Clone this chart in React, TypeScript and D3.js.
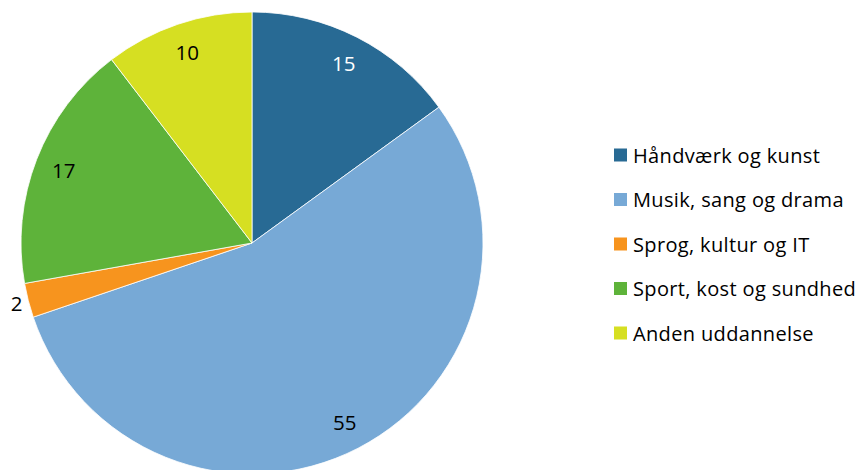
import React from "react";
import * as d3 from "d3";

const categories = ["Håndværk og kunst", "Musik, sang og drama", "Sprog, kultur og IT", "Sport, kost og sundhed", "Anden uddannelse"];
const values = [15.0, 54.8, 2.4, 17.4, 10.4];
const colors = ["#286A94", "#77A9D6", "#F7941E", "#5EB33A", "#D6DF22"];
const labelColors = ["#ffffff", "#000000", "#000000", "#000000", "#000000"];

const W = 859, H = 470;
const cx = 252, cy = 243, R = 231;
const FONT = "'Open Sans', 'Liberation Sans', sans-serif";

export default function App() {
  const pie = d3.pie<number>().sort(null).value((d) => d);
  const arcs = pie(values);
  const arc = d3.arc<d3.PieArcDatum<number>>().innerRadius(0).outerRadius(R);
  const total = d3.sum(values);
  return (
    <svg width={W} height={H} style={{ position: "absolute", left: 0, top: 0 }}>
      <rect width={W} height={H} fill="#ffffff" />
      <g transform={`translate(${cx},${cy})`}>
        {arcs.map((a, i) => (
          <path key={i} d={arc(a) || ""} fill={colors[i]} stroke="#ffffff" strokeWidth={0.8} />
        ))}
        {arcs.map((a, i) => {
          const mid = (a.startAngle + a.endAngle) / 2;
          const small = a.value / total < 0.05;
          const lr = small ? 243 : 202;
          const x = Math.sin(mid) * lr;
          const y = -Math.cos(mid) * lr;
          return (
            <text key={i} x={x} y={y} textAnchor="middle" dominantBaseline="central"
              fontFamily={FONT} fontSize={20.5} fill={labelColors[i]}>{Math.round(a.value)}</text>
          );
        })}
      </g>
      <g>
        {categories.map((c, i) => {
          const y = 155 + i * 44.5;
          return (
            <g key={i}>
              <rect x={614} y={y - 6.5} width={13} height={13} fill={colors[i]} />
              <text x={633} y={y} dominantBaseline="central" fontFamily={FONT} fontSize={20} letterSpacing={0.35} fill="#000">{c}</text>
            </g>
          );
        })}
      </g>
    </svg>
  );
}
